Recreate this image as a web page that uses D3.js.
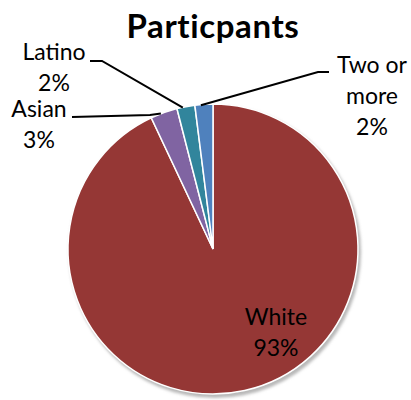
<!DOCTYPE html>
<html>
<head>
<meta charset="utf-8">
<script src="https://cdn.jsdelivr.net/npm/d3@7"></script>
<style>
  body { margin: 0; background: #fff; }
  text { font-family: Lato, "Open Sans", sans-serif; fill: #000; }
</style>
</head>
<body>
<svg width="411" height="400"></svg>
<script>
// chart data
const categories = ['White', 'Asian', 'Latino', 'Two or more'];
const values = [93, 3, 2, 2];
const colors = ['#953735', '#8064a2', '#31859c', '#4f81bd'];
const labelLines = [['White', '93%'], ['Asian', '3%'], ['Latino', '2%'], ['Two or', 'more', '2%']];

(function (d3) {
    'use strict';
    const svg = d3.select('svg');
    const cx = 213, cy = 249, r = 145;

    svg.append('text')
        .attr('x', 213).attr('y', 38)
        .attr('text-anchor', 'middle')
        .attr('font-size', 33)
        .attr('font-weight', 'bold')
        .attr('letter-spacing', 0.6)
        .text('Particpants');

    const defs = svg.append('defs');
    const f = defs.append('filter').attr('id', 'shadow')
        .attr('x', '-10%').attr('y', '-10%').attr('width', '120%').attr('height', '120%');
    f.append('feGaussianBlur').attr('stdDeviation', 1.5);

    const pie = d3.pie().sort(null).value(d => d);
    const arcs = pie(values);
    const arc = d3.arc().innerRadius(0).outerRadius(r);

    const g = svg.append('g').attr('transform', `translate(${cx},${cy})`);

    // soft shadow under the pie
    g.append('circle')
        .attr('cx', 2).attr('cy', 3).attr('r', r + 1)
        .attr('fill', '#b8b8b8')
        .attr('filter', 'url(#shadow)');

    g.selectAll('path.slice').data(arcs)
      .enter().append('path')
        .attr('class', 'slice')
        .attr('d', arc)
        .attr('fill', (d, i) => colors[i])
        .attr('stroke', '#fff')
        .attr('stroke-width', 1.5);

    // label placement (centre x, first baseline y)
    const labelPos = [
        { x: 276, y: 325 },
        { x: 39, y: 117 },
        { x: 54, y: 60 },
        { x: 372, y: 73 }
    ];
    const lineH = 31;

    categories.forEach((c, i) => {
        const t = svg.append('text')
            .attr('text-anchor', 'middle')
            .attr('font-size', 23);
        labelLines[i].forEach((s, j) => {
            t.append('tspan')
                .attr('x', labelPos[i].x)
                .attr('y', labelPos[i].y + j * lineH)
                .text(s);
        });
    });

    // leader lines from outside labels to slice edges
    const edge = d => {
        const a = (d.startAngle + d.endAngle) / 2;
        return [cx + r * Math.sin(a), cy - r * Math.cos(a)];
    };
    const leaders = [
        { i: 1, pts: [[72, 117], [150, 115]] },
        { i: 2, pts: [[90, 61], [102, 61]] },
        { i: 3, pts: [[329, 72], [318, 72]] }
    ];
    const line = d3.line();
    leaders.forEach(l => {
        const e = edge(arcs[l.i]);
        const pts = l.pts.concat([[e[0] - 3, e[1] + 1]]);
        svg.append('path')
            .attr('d', line(pts))
            .attr('fill', 'none')
            .attr('stroke', '#000')
            .attr('stroke-width', 2);
    });
}(d3));
</script>
</body>
</html>
